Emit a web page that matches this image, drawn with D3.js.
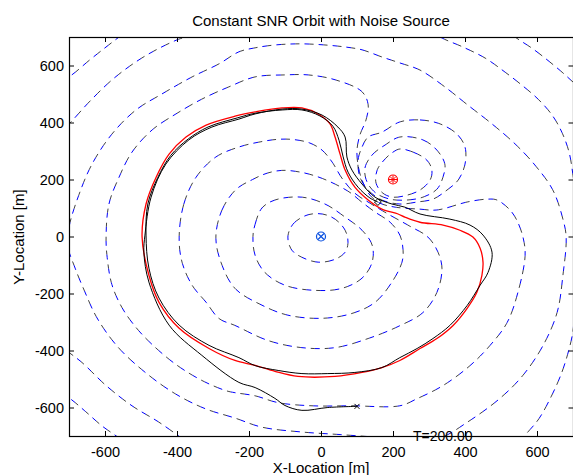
<!DOCTYPE html>
<html>
<head>
<meta charset="utf-8">
<script src="https://cdn.jsdelivr.net/npm/d3@7"></script>
<style>
  body { margin: 0; background: #fff; }
  text { font-family: "Liberation Sans", Arial, sans-serif; }
</style>
</head>
<body>
<script>
// contour lines of the SNR field (data units, metres)
// closed contours around the receiver
const ring1 = [[-92,-2],[-78,43],[-39,75],[3,79],[39,61],[67,22],[75,-20],[67,-55],[39,-80],[-8,-90],[-53,-73],[-81,-48]];
const ring2 = [[-189,0],[-183,43],[-164,100],[-128,128],[-53,138],[11,114],[67,68],[114,22],[142,-30],[142,-90],[114,-146],[58,-182],[-17,-189],[-100,-171],[-156,-126],[-183,-66]];
const ring3 = [[-292,-2],[-275,93],[-236,165],[-190,200],[-150,222],[-108,232],[-58,226],[-10,210],[39,184],[81,154],[112,122],[150,86],[192,50],[219,5],[228,-48],[225,-90],[197,-160],[150,-231],[86,-270],[3,-287],[-92,-276],[-164,-241],[-239,-182],[-278,-90]];
const ring4 = [[-394,-2],[-381,114],[-347,208],[-292,279],[-228,314],[-169,332],[-119,341],[-75,340],[-31,328],[3,303],[31,261],[58,205],[94,152],[136,117],[186,79],[247,36],[297,-2],[325,-55],[336,-112],[322,-196],[283,-267],[219,-313],[131,-358],[39,-390],[-53,-390],[-147,-365],[-239,-312],[-283,-288],[-319,-231],[-358,-171],[-386,-90]];
const ring6 = [[-597,-2],[-589,114],[-561,208],[-525,296],[-469,374],[-403,430],[-331,482],[-256,525],[-183,560],[-100,567],[-36,567],[39,550],[114,508],[131,462],[125,409],[108,356],[100,303],[103,250],[114,198],[136,145],[164,117],[206,103],[275,96],[322,93],[406,121],[461,131],[489,128],[525,93],[544,57],[561,-2],[567,-66],[547,-196],[517,-302],[469,-383],[414,-453],[339,-523],[267,-569],[219,-594],[86,-594],[-25,-594],[-119,-583],[-183,-559],[-239,-548],[-264,-541],[-331,-505],[-403,-449],[-469,-379],[-514,-319],[-553,-249],[-581,-168],[-594,-73]];
const ring7 = [[-704,-30],[-700,33],[-672,148],[-636,254],[-581,359],[-514,444],[-442,500],[-358,560],[-283,606],[-228,648],[-183,662],[-128,672],[-58,676],[11,672],[67,665],[114,655],[169,630],[219,609],[275,584],[344,525],[408,461],[475,395],[539,325],[594,251],[644,163],[672,61],[681,-2],[672,-136],[656,-266],[617,-382],[561,-487],[497,-568],[406,-652],[331,-706],[247,-712],[164,-705],[53,-695],[-53,-686],[-164,-669],[-239,-637],[-322,-604],[-406,-551],[-489,-476],[-564,-388],[-622,-286],[-658,-188],[-683,-111]];
// closed contours around the noise source
const noise1 = [[219,307],[256,296],[294,268],[308,233],[303,198],[275,163],[239,145],[200,138],[172,152],[153,187],[156,233],[178,272],[200,296]];
const noise2 = [[219,349],[283,339],[322,303],[344,254],[339,209],[322,166],[283,138],[239,128],[192,131],[153,152],[128,191],[122,240],[142,286],[178,321]];
const noise3 = [[219,402],[275,409],[331,395],[378,359],[400,314],[400,254],[381,198],[350,163],[311,131],[267,121],[219,114],[169,128],[131,163],[108,209],[103,268],[114,314],[131,349],[169,366]];
// outer contours, leaving the axes
const outer8a = [[-740,350],[-700,395],[-644,472],[-581,549],[-514,613],[-458,655],[-400,690],[-378,700],[-340,730]];
const outer8b = [[300,730],[331,700],[394,665],[456,626],[511,577],[558,531],[603,482],[642,426],[669,366],[689,296],[700,215],[708,127],[712,0],[708,-150],[700,-330],[688,-400],[668,-480],[640,-560],[605,-640],[565,-700],[540,-740]];
const outer8c = [[-740,-370],[-700,-407],[-664,-442],[-597,-523],[-525,-594],[-452,-650],[-395,-700],[-360,-730]];
const outer9a = [[-760,520],[-700,560],[-642,620],[-600,662],[-561,700],[-520,740]];
const outer9b = [[500,740],[539,700],[589,658],[636,612],[672,574],[700,542],[740,500]];
const outer9c = [[-760,-520],[-700,-566],[-656,-612],[-608,-665],[-561,-707],[-520,-750]];

// constant SNR orbit (red) and the robot path (black)
const orbit = [[-497,-2],[-486,114],[-458,208],[-422,289],[-375,349],[-319,391],[-236,423],[-183,437],[-108,451],[-53,451],[-8,430],[25,395],[39,349],[53,289],[67,233],[94,173],[131,128],[169,96],[214,79],[233,68],[275,50],[339,40],[386,22],[422,-2],[442,-41],[450,-90],[447,-136],[433,-196],[406,-252],[367,-312],[322,-358],[275,-393],[219,-435],[169,-460],[114,-477],[39,-491],[-64,-491],[-128,-473],[-183,-452],[-239,-435],[-311,-393],[-394,-322],[-450,-231],[-478,-136]];
const path = [[100,-596],[19,-600],[-53,-610],[-100,-593],[-128,-568],[-183,-530],[-228,-512],[-331,-417],[-422,-311],[-478,-160],[-492,-55],[-489,5],[-472,138],[-431,254],[-367,339],[-303,384],[-228,412],[-183,430],[-108,447],[-53,447],[3,426],[47,384],[67,349],[72,279],[86,233],[114,184],[150,138],[197,114],[233,103],[275,79],[358,61],[414,40],[450,5],[475,-55],[464,-126],[442,-171],[406,-242],[358,-312],[311,-358],[267,-393],[219,-425],[169,-460],[94,-477],[19,-481],[-53,-481],[-119,-470],[-183,-453],[-228,-425],[-311,-382],[-394,-311],[-450,-216],[-478,-111],[-486,5],[-481,114],[-453,208],[-417,285],[-369,342],[-314,384],[-233,416],[-181,433],[-108,444],[-53,444],[-3,423],[33,387],[50,338],[61,282],[75,226],[103,173],[136,135],[158,121]];

const receiver = [0, 0],
      noiseSource = [200, 200];
const xTicks = [-600,-400,-200,0,200,400,600],
      yTicks = [-600,-400,-200,0,200,400,600];
const titleText = 'Constant SNR Orbit with Noise Source',
      xLabel = 'X-Location [m]',
      yLabel = 'Y-Location [m]',
      timeText = 'T=200.00';

let width = 573,
    height = 475,
    padL = 69, padR = 573.5, padT = 37, padB = 436;

let xScale = d3.scaleLinear([-700, 700], [padL, 573]),
    yScale = d3.scaleLinear([-700, 700], [padB, padT]);

let svg = d3.select('body').append('svg').attr('width', width).attr('height', height);

svg.append('clipPath').attr('id', 'plotclip')
    .append('rect').attr('x', padL).attr('y', padT).attr('width', 573 - padL).attr('height', padB - padT);

let chart = svg.append('g').attr('clip-path', 'url(#plotclip)');

let lineOpen = d3.line().x(d=>xScale(d[0])).y(d=>yScale(d[1])).curve(d3.curveCatmullRom),
    lineClosed = d3.line().x(d=>xScale(d[0])).y(d=>yScale(d[1])).curve(d3.curveCatmullRomClosed);

let closedContours = [ring1, ring2, ring3, ring4, ring6, ring7, noise1, noise2, noise3],
    openContours = [outer8a, outer8b, outer8c, outer9a, outer9b, outer9c];

// dashed contour: blue dash followed by a short dark piece, then a gap
function dashed(data, gen) {
    chart.append('path').attr('d', gen(data))
        .style('fill', 'none').style('stroke', '#0000ff').style('stroke-width', '1px')
        .style('stroke-dasharray', '5 9');
    chart.append('path').attr('d', gen(data))
        .style('fill', 'none').style('stroke', '#111').style('stroke-width', '0.8px')
        .style('stroke-dasharray', '0 5 4 5');
}
closedContours.forEach(c => dashed(c, lineClosed));
openContours.forEach(c => dashed(c, lineOpen));

chart.append('path').attr('d', lineClosed(orbit))
    .style('fill', 'none').style('stroke', '#ff0000').style('stroke-width', '1.3px');
chart.append('path').attr('d', lineOpen(path))
    .style('fill', 'none').style('stroke', '#000').style('stroke-width', '1px');

// markers
let rx = xScale(receiver[0]), ry = yScale(receiver[1]);
chart.append('circle').attr('cx', rx).attr('cy', ry).attr('r', 4.5)
    .style('fill', 'none').style('stroke', '#0a50e0').style('stroke-width', '1.2px');
chart.append('path').attr('d', `M${rx-3},${ry-3}L${rx+3},${ry+3}M${rx-3},${ry+3}L${rx+3},${ry-3}`)
    .style('stroke', '#0a50e0').style('stroke-width', '1.2px');

let nx = xScale(noiseSource[0]), ny = yScale(noiseSource[1]);
chart.append('circle').attr('cx', nx).attr('cy', ny).attr('r', 4.5)
    .style('fill', 'none').style('stroke', '#ff0000').style('stroke-width', '1.2px');
chart.append('path').attr('d', `M${nx-3},${ny-3}L${nx+3},${ny+3}M${nx-3},${ny+3}L${nx+3},${ny-3}M${nx},${ny-4}L${nx},${ny+4}M${nx-4},${ny}L${nx+4},${ny}`)
    .style('stroke', '#ff0000').style('stroke-width', '1px');

let sx = xScale(path[0][0]), sy = yScale(path[0][1]);
chart.append('path').attr('d', `M${sx-2.5},${sy-2.5}L${sx+2.5},${sy+2.5}M${sx-2.5},${sy+2.5}L${sx+2.5},${sy-2.5}`)
    .style('stroke', '#000').style('stroke-width', '1px');
let last = path[path.length-1];
chart.append('path').attr('transform', `translate(${xScale(last[0])},${yScale(last[1])})`)
    .attr('d', d3.symbol(d3.symbolDiamond2, 30)())
    .style('fill', 'none').style('stroke', '#000').style('stroke-width', '1px');

// axes, MATLAB style: ticks inside on all four sides
let plain = d => String(d);
let xAxis = svg.append('g').attr('transform', `translate(0,${padB})`)
    .call(d3.axisBottom(xScale).tickValues(xTicks).tickFormat(plain).tickSize(-5).tickSizeOuter(0).tickPadding(11));
let yAxis = svg.append('g').attr('transform', `translate(${padL},0)`)
    .call(d3.axisLeft(yScale).tickValues(yTicks).tickFormat(plain).tickSize(-5).tickSizeOuter(0).tickPadding(5));
svg.append('g').attr('transform', `translate(0,${padT})`)
    .call(d3.axisTop(xScale).tickValues(xTicks).tickSize(-5).tickSizeOuter(0).tickFormat(''));
svg.append('g').attr('transform', `translate(${padR},0)`)
    .call(d3.axisRight(yScale).tickValues(yTicks).tickSize(-5).tickSizeOuter(0).tickFormat(''));

svg.selectAll('.domain').remove();
svg.selectAll('.tick line').style('stroke', '#000');
svg.selectAll('.tick text').style('font-size', '14.5px').style('fill', '#000')
    .style('font-family', '"Liberation Sans", Arial, sans-serif');

svg.append('rect').attr('x', padL + 0.5).attr('y', padT + 0.5)
    .attr('width', padR - padL - 0.5).attr('height', padB - padT)
    .style('fill', 'none').style('stroke', '#000').style('stroke-width', '1.2px');

svg.append('text').attr('x', 413).attr('y', 441).text(timeText)
    .style('font-size', '14px').style('fill', '#000');

svg.append('text').attr('x', 321).attr('y', 26).attr('text-anchor', 'middle')
    .text(titleText).style('font-size', '15px');
svg.append('text').attr('x', 321).attr('y', 473).attr('text-anchor', 'middle')
    .text(xLabel).style('font-size', '15px');
svg.append('text').attr('transform', 'translate(24,237) rotate(-90)').attr('text-anchor', 'middle')
    .text(yLabel).style('font-size', '15px');
</script>
</body>
</html>
